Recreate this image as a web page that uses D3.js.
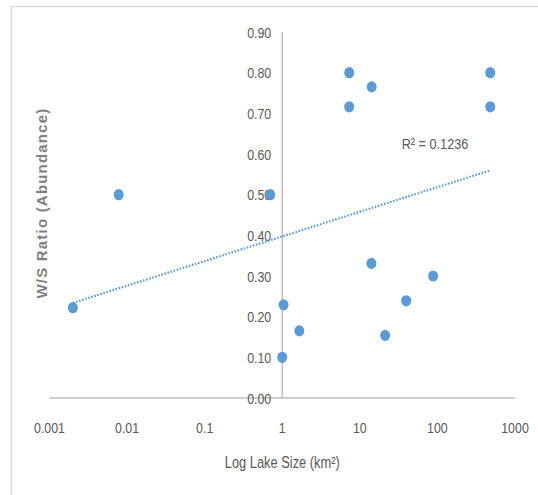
<!DOCTYPE html>
<html><head><meta charset="utf-8">
<script src="https://cdn.jsdelivr.net/npm/d3@7"></script>
<style>body{margin:0;background:#fff}svg{display:block}</style>
</head><body>
<script>
const lakeSize = [0.002, 0.0078, 0.70, 1.04, 1.0, 1.66, 7.3, 7.3, 14.2, 14.1, 21.2, 39.6, 88, 480, 480];
const wsRatio  = [0.222, 0.50, 0.50, 0.229, 0.10, 0.165, 0.80, 0.716, 0.765, 0.331, 0.154, 0.239, 0.30, 0.80, 0.716];
const xTicks = [0.001, 0.01, 0.1, 1, 10, 100, 1000];
const xTickLabels = ["0.001", "0.01", "0.1", "1", "10", "100", "1000"];
const yTicks = [0, 0.1, 0.2, 0.3, 0.4, 0.5, 0.6, 0.7, 0.8, 0.9];
const r2Label = "R² = 0.1236";
const xTitle = "Log Lake Size (km²)";
const yTitle = "W/S Ratio (Abundance)";

const W = 538, H = 495;
const svg = d3.select("body").append("svg").attr("width", W).attr("height", H);
const blue = "#5B9BD5", grey = "#595959", axisCol = "#BFBFBF";
const font = "'Liberation Sans',Arial,sans-serif";
const SX = 0.8;

// frame
svg.append("path").attr("d", `M11.5,${H} V6.5 H${W}`).attr("fill","none").attr("stroke","#D9D9D9").attr("stroke-width",1.5);

const x = d3.scaleLog().domain([0.001, 1000]).range([49.5, 515]);
const y = d3.scaleLinear().domain([0, 0.9]).range([398, 32]);

// x axis line (crosses at y=0)
svg.append("line").attr("x1", x(0.001)).attr("x2", x(1000)).attr("y1", y(0)).attr("y2", y(0))
  .attr("stroke", axisCol).attr("stroke-width", 1.5);
// y axis line at x=1
svg.append("line").attr("x1", x(1)).attr("x2", x(1)).attr("y1", y(0)).attr("y2", y(0.9))
  .attr("stroke", axisCol).attr("stroke-width", 1.5);

function condensed(sel) {
  return sel.attr("font-family", font).attr("fill", grey);
}

// y tick labels
condensed(svg.append("g").selectAll("text").data(yTicks).join("text"))
  .attr("transform", d => `translate(${x(1) - 11},${y(d)}) scale(${SX},1)`).attr("dy", "0.36em")
  .attr("text-anchor", "end").attr("font-size", 15.5)
  .text(d => d3.format(".2f")(d));

// x tick labels
condensed(svg.append("g").selectAll("text").data(xTicks).join("text"))
  .attr("transform", d => `translate(${x(d)},427) scale(${SX},1)`).attr("dy", "0.36em")
  .attr("text-anchor", "middle").attr("font-size", 15.5)
  .text((d, i) => xTickLabels[i]);

// titles
condensed(svg.append("text")).attr("transform", `translate(${x(1)},462) scale(0.78,1)`).attr("dy", "0.36em")
  .attr("text-anchor", "middle").attr("font-size", 16.5).text(xTitle);
svg.append("text").attr("transform", "translate(42,203) rotate(-90)").attr("dy", "0.35em")
  .attr("text-anchor", "middle").attr("font-family", font)
  .attr("font-size", 15).attr("font-weight", "bold").attr("letter-spacing", 1.2)
  .attr("fill", "#808080").text(yTitle);

// regression on log10(x)
const lx = lakeSize.map(Math.log10);
const mx = d3.mean(lx), my = d3.mean(wsRatio);
let sxy = 0, sxx = 0;
lx.forEach((v, i) => { sxy += (v - mx) * (wsRatio[i] - my); sxx += (v - mx) ** 2; });
const slope = sxy / sxx, intercept = my - slope * mx;
const [xmin, xmax] = d3.extent(lakeSize);
const trend = d3.range(0, 61).map(i => {
  const lv = Math.log10(xmin) + (Math.log10(xmax) - Math.log10(xmin)) * i / 60;
  return [Math.pow(10, lv), intercept + slope * lv];
});
svg.append("path").datum(trend)
  .attr("d", d3.line().x(d => x(d[0])).y(d => y(d[1])))
  .attr("fill", "none").attr("stroke", blue).attr("stroke-width", 2.2).attr("stroke-dasharray", "1.6,1.6");

// points
svg.append("g").selectAll("ellipse").data(lakeSize).join("ellipse")
  .attr("cx", d => x(d)).attr("cy", (d, i) => y(wsRatio[i]))
  .attr("rx", 5).attr("ry", 5.6).attr("fill", blue);

// R2 label
condensed(svg.append("text")).attr("transform", "translate(435,143) scale(0.82,1)").attr("dy", "0.36em")
  .attr("text-anchor", "middle").attr("font-size", 15.5).text(r2Label);
</script>
</body></html>
